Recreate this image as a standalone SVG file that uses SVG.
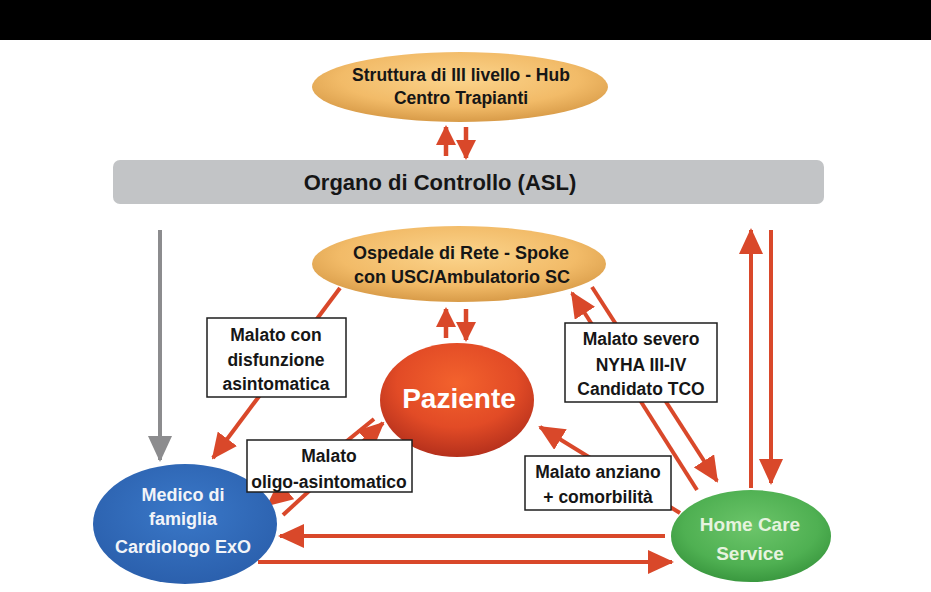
<svg xmlns="http://www.w3.org/2000/svg" width="931" height="592" viewBox="0 0 931 592">
<style>
.t{font-family:"Liberation Sans",Arial,Helvetica,sans-serif;font-weight:bold;text-anchor:middle}
.dk{fill:#161616}
.wh{fill:#ffffff}
.lbl{fill:#ffffff;stroke:#1e1e1e;stroke-width:1.5}
.ar{stroke:#d9482a;stroke-width:4;fill:none;marker-end:url(#ah)}
.ars{stroke:#d9482a;stroke-width:4.5;fill:none;marker-end:url(#ahs)}
.gr{stroke:#8c8c8e;stroke-width:4;fill:none;marker-end:url(#ahg)}
</style>
<defs>
<marker id="ah" markerUnits="userSpaceOnUse" markerWidth="26" markerHeight="24" viewBox="0 0 26 24" refX="24" refY="12" orient="auto"><path d="M0,0 L26,12 L0,24 z" fill="#d9482a"/></marker>
<marker id="ahs" markerUnits="userSpaceOnUse" markerWidth="20" markerHeight="20" viewBox="0 0 20 20" refX="18" refY="10" orient="auto"><path d="M0,0 L20,10 L0,20 z" fill="#d9482a"/></marker>
<marker id="ahg" markerUnits="userSpaceOnUse" markerWidth="26" markerHeight="24" viewBox="0 0 26 24" refX="24" refY="12" orient="auto"><path d="M0,0 L26,12 L0,24 z" fill="#8c8c8e"/></marker>
<radialGradient id="gOr" cx="50%" cy="38%" r="62%"><stop offset="0" stop-color="#fbd48c"/><stop offset="0.65" stop-color="#f2bb68"/><stop offset="1" stop-color="#d89b48"/></radialGradient>
<radialGradient id="gRd" cx="50%" cy="35%" r="65%"><stop offset="0" stop-color="#f3622d"/><stop offset="0.6" stop-color="#e24b26"/><stop offset="1" stop-color="#b5301c"/></radialGradient>
<radialGradient id="gBl" cx="50%" cy="40%" r="60%"><stop offset="0" stop-color="#3a78c8"/><stop offset="1" stop-color="#2b60ad"/></radialGradient>
<radialGradient id="gGr" cx="50%" cy="40%" r="60%"><stop offset="0" stop-color="#6cc56a"/><stop offset="0.7" stop-color="#4fb052"/><stop offset="1" stop-color="#3a983f"/></radialGradient>
</defs>
<rect x="0" y="0" width="931" height="592" fill="#ffffff"/>
<rect x="0" y="0" width="931" height="40" fill="#000000"/>

<g id="connectors">
<line class="ars" x1="446" y1="156" x2="446" y2="127"/>
<line class="ars" x1="466" y1="127" x2="466" y2="158"/>
<line class="ars" x1="446" y1="338" x2="446" y2="309"/>
<line class="ars" x1="466" y1="309" x2="466" y2="340"/>
<line class="gr" x1="160" y1="230" x2="160" y2="460"/>
<line class="ar" x1="340" y1="288" x2="213" y2="458"/>
<line class="ar" x1="283" y1="515" x2="383" y2="423"/>
<line class="ar" x1="374" y1="419" x2="268" y2="505"/>
<line class="ar" x1="697" y1="490" x2="572" y2="293"/>
<line class="ar" x1="592" y1="287" x2="717" y2="481"/>
<line class="ar" x1="751" y1="488" x2="751" y2="230"/>
<line class="ar" x1="771" y1="230" x2="771" y2="483"/>
<line class="ar" x1="680" y1="513" x2="540" y2="427"/>
<line class="ar" x1="665" y1="536" x2="280" y2="536"/>
<line class="ar" x1="258" y1="562" x2="672" y2="562"/>
</g>

<g id="hub">
<ellipse cx="460" cy="87" rx="148" ry="35" fill="url(#gOr)"/>
<text class="t dk" x="461" y="81" font-size="17.5">Struttura di III livello - Hub</text>
<text class="t dk" x="461" y="104" font-size="17.5">Centro Trapianti</text>
</g>

<g id="asl">
<rect x="113" y="160" width="711" height="44" rx="7" fill="#c2c4c6"/>
<text class="t dk" x="440" y="190" font-size="22">Organo di Controllo (ASL)</text>
</g>

<g id="spoke">
<ellipse cx="459" cy="264" rx="147" ry="38" fill="url(#gOr)"/>
<text class="t dk" x="461" y="259" font-size="18">Ospedale di Rete - Spoke</text>
<text class="t dk" x="462" y="283" font-size="18">con USC/Ambulatorio SC</text>
</g>

<g id="paziente">
<ellipse cx="457" cy="400" rx="77" ry="57" fill="url(#gRd)"/>
<text class="t wh" x="459" y="408" font-size="28">Paziente</text>
</g>

<g id="medico">
<ellipse cx="185" cy="524" rx="92" ry="60" fill="url(#gBl)"/>
<text class="t" x="183" y="501" font-size="18" fill="#f2f4f8">Medico di</text>
<text class="t" x="183" y="525" font-size="18" fill="#f2f4f8">famiglia</text>
<text class="t" x="183" y="553" font-size="18" fill="#f2f4f8">Cardiologo ExO</text>
</g>

<g id="homecare">
<ellipse cx="751" cy="536" rx="80" ry="46" fill="url(#gGr)"/>
<text class="t" x="750" y="531" font-size="19" fill="#e6f3df">Home Care</text>
<text class="t" x="750" y="560" font-size="19" fill="#e6f3df">Service</text>
</g>

<g id="lbl-asintomatica">
<rect class="lbl" x="207" y="318" width="139" height="79"/>
<text class="t dk" x="276" y="341" font-size="17.5">Malato con</text>
<text class="t dk" x="276" y="366" font-size="17.5">disfunzione</text>
<text class="t dk" x="276" y="390" font-size="17.5">asintomatica</text>
</g>

<g id="lbl-severo">
<rect class="lbl" x="565" y="323" width="152" height="79"/>
<text class="t dk" x="641" y="345" font-size="17.5">Malato severo</text>
<text class="t dk" x="641" y="371" font-size="17.5">NYHA III-IV</text>
<text class="t dk" x="641" y="395" font-size="17.5">Candidato TCO</text>
</g>

<g id="lbl-oligo">
<rect class="lbl" x="247" y="440" width="165" height="52"/>
<text class="t dk" x="329" y="462" font-size="17.5">Malato</text>
<text class="t dk" x="329" y="488" font-size="17.5">oligo-asintomatico</text>
</g>

<g id="lbl-anziano">
<rect class="lbl" x="525" y="456" width="146" height="54"/>
<text class="t dk" x="598" y="478" font-size="17.5">Malato anziano</text>
<text class="t dk" x="598" y="503" font-size="17.5">+ comorbilità</text>
</g>
</svg>
